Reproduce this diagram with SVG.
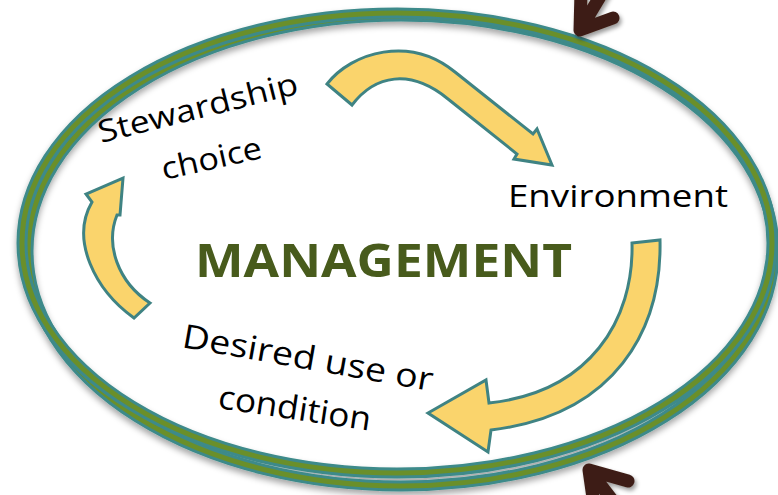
<svg xmlns="http://www.w3.org/2000/svg" width="778" height="495" viewBox="0 0 778 495">
  <defs>
    <filter id="shadow" x="-10%" y="-10%" width="120%" height="130%">
      <feDropShadow dx="0" dy="4" stdDeviation="3" flood-color="#000" flood-opacity="0.35"/>
    </filter>
    <filter id="bshadow" x="-50%" y="-50%" width="200%" height="200%">
      <feDropShadow dx="2" dy="3" stdDeviation="2" flood-color="#000" flood-opacity="0.4"/>
    </filter>
  </defs>
  <style>
    .ringOuter { fill: none; stroke: #3d8a8a; stroke-width: 11; }
    .ringInner { fill: none; stroke: #6b8f2c; stroke-width: 5; }
    .yarrow { fill: #fad46c; stroke: #3f8383; stroke-width: 3; stroke-linejoin: miter; }
    .brown { fill: none; stroke: #3e1f16; stroke-width: 13; stroke-linecap: round; stroke-linejoin: round; }
    .lbl { font-family: "Open Sans", Lato, "DejaVu Sans", sans-serif; fill: #000; }
    .mgmt { font-family: "Open Sans", Lato, "DejaVu Sans", sans-serif; font-weight: bold; fill: #485b1c; }
  </style>
  <rect width="778" height="495" fill="#ffffff"/>

  <g id="ring" filter="url(#shadow)">
    <ellipse class="ringOuter" cx="401" cy="251" rx="373" ry="235"/>
    <ellipse class="ringInner" cx="401" cy="251" rx="373" ry="235"/>
    <ellipse class="ringOuter" cx="397" cy="243" rx="375" ry="230"/>
    <ellipse class="ringInner" cx="397" cy="243" rx="375" ry="230"/>
  </g>

  <g id="connectors">
    <g id="brown-top" filter="url(#bshadow)">
      <path class="brown" d="M613,18 L580,30 M580,30 L581,-8 M580,30 L604,-10"/>
    </g>
    <g id="brown-bottom" filter="url(#bshadow)">
      <path class="brown" d="M628,481 L589,470 M589,470 L594,505 M589,470 L616,505"/>
    </g>
    <path id="arrow-top" class="yarrow" d="M327,84 C352,52 410,35 455,72 L533,134 L537,129 L552,165 L514,159 L517,154 L448,99 C410,68 375,75 352,105 Z"/>
    <path id="arrow-right" class="yarrow" d="M632,243 L660,240 C662,330 615,415 491,430 L488,452 L428,413 L486,380 L489,403 C590,392 634,320 632,243 Z"/>
    <path id="arrow-left" class="yarrow" d="M134,318 C95,290 70,240 92,202 L86,194 L123,178 L120,215 L117,215 C105,245 118,282 150,303 Z"/>
  </g>

  <g id="stewardship">
    <text class="lbl" font-size="31" transform="translate(101,143) rotate(-14)" textLength="205" lengthAdjust="spacingAndGlyphs">Stewardship</text>
    <text class="lbl" font-size="31" transform="translate(164,180) rotate(-12.5)" textLength="102" lengthAdjust="spacingAndGlyphs">choice</text>
  </g>
  <g id="environment">
    <text class="lbl" x="508" y="207" font-size="31" textLength="220" lengthAdjust="spacingAndGlyphs">Environment</text>
  </g>
  <g id="management">
    <text class="mgmt" x="195" y="277" font-size="46" textLength="377" lengthAdjust="spacingAndGlyphs">MANAGEMENT</text>
  </g>
  <g id="desired">
    <text class="lbl" font-size="33" transform="translate(181,347) rotate(10)" textLength="254" lengthAdjust="spacingAndGlyphs">Desired use or</text>
    <text class="lbl" font-size="33" transform="translate(217,408) rotate(8.5)" textLength="154" lengthAdjust="spacingAndGlyphs">condition</text>
  </g>
</svg>
